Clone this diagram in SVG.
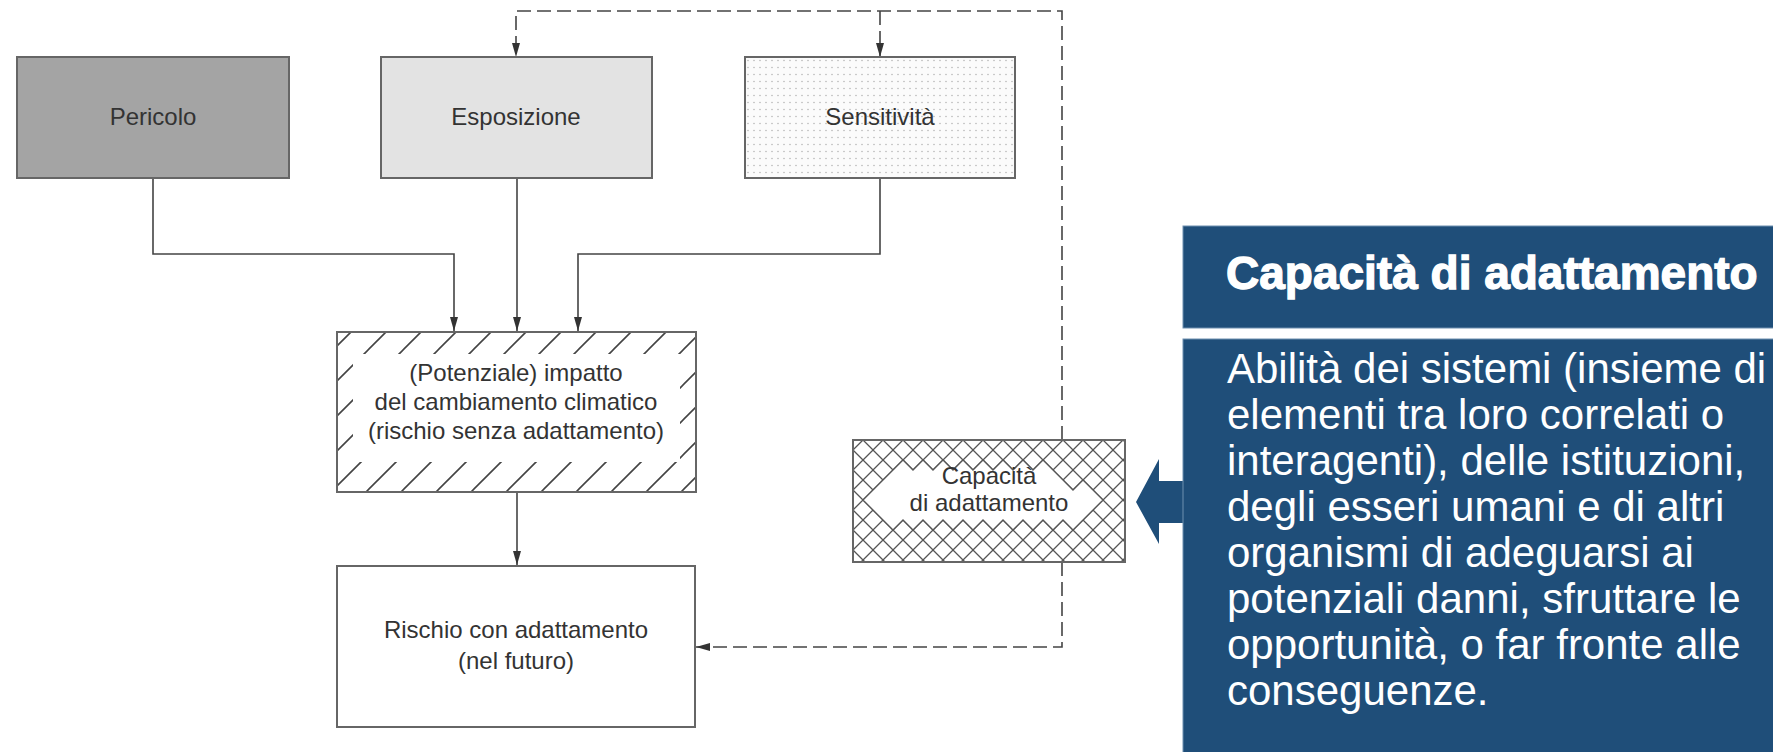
<svg xmlns="http://www.w3.org/2000/svg" width="1773" height="752" viewBox="0 0 1773 752">
  <style>
    .box { stroke: #666; stroke-width: 2; }
    .lbl { font-family: "Liberation Sans", Arial, sans-serif; font-size: 24px; fill: #333; text-anchor: middle; }
    .conn { fill: none; stroke: #444; stroke-width: 1.6; }
    .dash { fill: none; stroke: #444; stroke-width: 1.6; stroke-dasharray: 14 6; }
    .blue { fill: #1f4e79; }
    .ttl { font-family: "Liberation Sans", Arial, sans-serif; font-size: 46px; font-weight: bold; fill: #fff; stroke: #fff; stroke-width: 1.3; }
    .body { font-family: "Liberation Sans", Arial, sans-serif; font-size: 42px; fill: #fff; }
  </style>
  <defs>
    <marker id="arr" viewBox="0 0 14 8" refX="14" refY="4" markerWidth="14" markerHeight="8" markerUnits="userSpaceOnUse" orient="auto">
      <path d="M0,0 L14,4 L0,8 Z" fill="#333"/>
    </marker>
    <pattern id="dots" patternUnits="userSpaceOnUse" x="745" y="57" width="6" height="7">
      <rect width="6" height="7" fill="#fbfbfb"/>
      <circle cx="3" cy="3.5" r="0.8" fill="#b8b8b8"/>
    </pattern>
    <pattern id="diag" patternUnits="userSpaceOnUse" x="18" y="0" width="35" height="35">
      <rect width="35" height="35" fill="#fff"/>
      <path d="M0,35 L35,0 M-5,5 L5,-5 M30,40 L40,30" stroke="#444" stroke-width="1.6"/>
    </pattern>
    <pattern id="xhatch" patternUnits="userSpaceOnUse" x="853" y="450" width="20" height="20">
      <rect width="20" height="20" fill="#fff"/>
      <path d="M-2,-2 L22,22 M22,-2 L-2,22" stroke="#555" stroke-width="1.3"/>
    </pattern>
  </defs>

  <rect width="1773" height="752" fill="#fff"/>

  <g id="connectors">
    <path class="conn" d="M153,178 V254 H454 V331" marker-end="url(#arr)"/>
    <path class="conn" d="M517,178 V331" marker-end="url(#arr)"/>
    <path class="conn" d="M880,178 V254 H578 V331" marker-end="url(#arr)"/>
    <path class="conn" d="M517,492 V565" marker-end="url(#arr)"/>
    <path class="dash" d="M1062,440 V11 H516 V57" marker-end="url(#arr)"/>
    <path class="dash" d="M880,11 V57" marker-end="url(#arr)"/>
    <path class="dash" d="M1062,562 V647 H696" marker-end="url(#arr)"/>
  </g>

  <g id="pericolo">
    <rect class="box" x="17" y="57" width="272" height="121" fill="#a4a4a4"/>
    <text class="lbl" x="153" y="125">Pericolo</text>
  </g>

  <g id="esposizione">
    <rect class="box" x="381" y="57" width="271" height="121" fill="#e3e3e3"/>
    <text class="lbl" x="516" y="125">Esposizione</text>
  </g>

  <g id="sensitivita">
    <rect class="box" x="745" y="57" width="270" height="121" fill="url(#dots)"/>
    <text class="lbl" x="880" y="125">Sensitività</text>
  </g>

  <g id="impatto">
    <rect x="337" y="332" width="359" height="160" fill="url(#diag)"/>
    <rect x="353" y="354" width="327" height="108" fill="#fff"/>
    <rect class="box" x="337" y="332" width="359" height="160" fill="none"/>
    <text class="lbl" x="516" y="381">(Potenziale) impatto</text>
    <text class="lbl" x="516" y="410">del cambiamento climatico</text>
    <text class="lbl" x="516" y="439">(rischio senza adattamento)</text>
  </g>

  <g id="rischio">
    <rect class="box" x="337" y="566" width="358" height="161" fill="#fff"/>
    <text class="lbl" x="516" y="638">Rischio con adattamento</text>
    <text class="lbl" x="516" y="669">(nel futuro)</text>
  </g>

  <g id="capacita">
    <rect x="853" y="440" width="272" height="122" fill="url(#xhatch)"/>
    <polygon points="863,500 873,490 883,480 893,470 903,460 913,470 923,460 933,470 943,460 953,470 963,460 973,470 983,460 993,470 1003,460 1013,470 1023,460 1033,470 1043,460 1053,470 1063,480 1073,490 1083,480 1093,490 1103,500 1093,510 1083,520 1073,530 1063,520 1053,530 1043,520 1033,530 1023,520 1013,530 1003,520 993,530 983,520 973,530 963,520 953,530 943,520 933,530 923,520 913,530 903,520 893,530 883,520 873,510" fill="#fff" stroke="#555" stroke-width="1.3"/>
    <rect class="box" x="853" y="440" width="272" height="122" fill="none"/>
    <text class="lbl" x="989" y="484">Capacità</text>
    <text class="lbl" x="989" y="511">di adattamento</text>
  </g>

  <g id="freccia">
    <polygon class="blue" points="1136,502 1159,459 1159,481 1184,481 1184,523 1159,523 1159,544"/>
  </g>

  <g id="titolo">
    <rect class="blue" x="1183" y="226" width="600" height="102" stroke="#6f8fb0" stroke-width="1"/>
    <text class="ttl" x="1226" y="289">Capacità di adattamento</text>
  </g>

  <g id="definizione">
    <rect class="blue" x="1183" y="339" width="600" height="420" stroke="#6f8fb0" stroke-width="1"/>
    <text class="body" x="1227" y="383">Abilità dei sistemi (insieme di</text>
    <text class="body" x="1227" y="429">elementi tra loro correlati o</text>
    <text class="body" x="1227" y="475">interagenti), delle istituzioni,</text>
    <text class="body" x="1227" y="521">degli esseri umani e di altri</text>
    <text class="body" x="1227" y="567">organismi di adeguarsi ai</text>
    <text class="body" x="1227" y="613">potenziali danni, sfruttare le</text>
    <text class="body" x="1227" y="659">opportunità, o far fronte alle</text>
    <text class="body" x="1227" y="705">conseguenze.</text>
  </g>
</svg>
